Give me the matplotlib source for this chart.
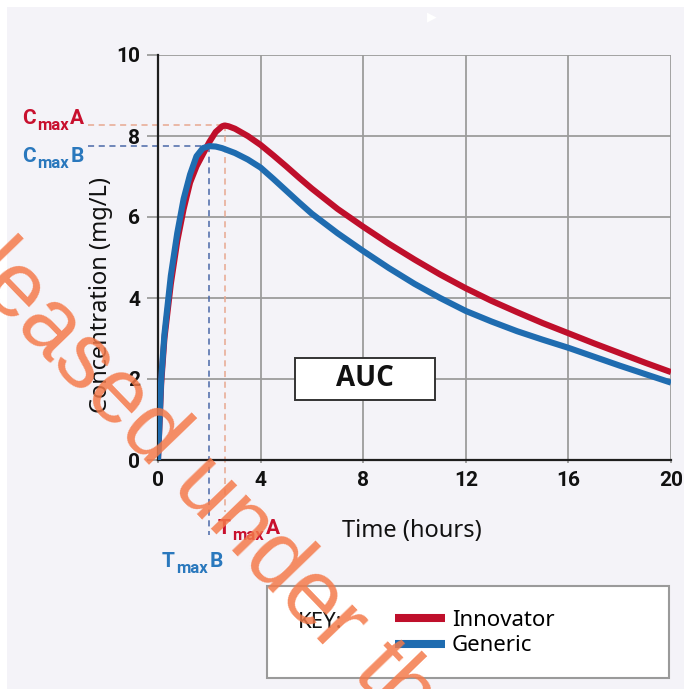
import matplotlib
matplotlib.use("Agg")
import matplotlib.pyplot as plt
from matplotlib.patches import Rectangle
import numpy as np

# ---------------- data ----------------
time_innovator = [0, 0.125, 0.25, 0.5, 0.75, 1.0, 1.25, 1.5, 1.75, 2.0, 2.25, 2.5, 2.6, 2.75, 3.0,
                  3.5, 4, 4.5, 5, 5.5, 6, 7, 8, 9, 10, 11, 12, 13, 14, 15, 16, 17, 18, 19, 20]
conc_innovator = [0, 1.9, 3.0, 4.35, 5.4, 6.2, 6.85, 7.25, 7.55, 7.85, 8.1, 8.24, 8.26, 8.24, 8.18,
                  8.0, 7.78, 7.52, 7.25, 6.97, 6.7, 6.2, 5.76, 5.34, 4.95, 4.58, 4.24, 3.93,
                  3.65, 3.38, 3.13, 2.88, 2.64, 2.4, 2.17]
time_generic = [0, 0.125, 0.25, 0.5, 0.75, 1.0, 1.25, 1.5, 1.75, 2.0, 2.25, 2.5, 3.0, 3.5, 4,
                4.5, 5, 5.5, 6, 7, 8, 9, 10, 11, 12, 13, 14, 15, 16, 17, 18, 19, 20]
conc_generic = [0, 2.0, 3.1, 4.55, 5.6, 6.45, 7.05, 7.5, 7.7, 7.75, 7.74, 7.7, 7.58, 7.42, 7.22,
                6.94, 6.65, 6.36, 6.08, 5.6, 5.16, 4.74, 4.35, 4.0, 3.68, 3.42, 3.18, 2.97,
                2.77, 2.55, 2.33, 2.12, 1.91]
series_names = ["Innovator", "Generic"]
x_ticks = [0, 4, 8, 12, 16, 20]
y_ticks = [0, 2, 4, 6, 8, 10]

# ---------------- style ----------------
W, H = 684, 689
BG = "#f4f3f8"
RED = "#bf0f2b"
BLUE = "#1f6cb0"
RED_TXT = "#c8102e"
BLUE_TXT = "#2a78bd"
GRID = "#9c9c9c"
NUM = ["Roboto", "DejaVu Sans"]
SANS = ["Noto Sans", "DejaVu Sans"]
BOLD = ["Open Sans", "DejaVu Sans"]

fig = plt.figure(figsize=(W / 100, H / 100), dpi=100)
fig.patch.set_facecolor("white")
fig.patches.append(Rectangle((7 / W, 0), 1, 1 - 7 / H, transform=fig.transFigure,
                             facecolor=BG, edgecolor="none", zorder=-10))
renderer = fig.canvas.get_renderer()


def fx(px):
    return px / W


def fy(py):
    return 1 - py / H


ax_l, ax_r, ax_t, ax_b = 158, 671, 55, 460
ax = fig.add_axes([fx(ax_l), fy(ax_b), fx(ax_r) - fx(ax_l), fy(ax_t) - fy(ax_b)])
ax.set_facecolor("none")
ax.set_xlim(0, 20)
ax.set_ylim(0, 10)
ax.set_xticks(x_ticks)
ax.set_yticks(y_ticks)
ax.grid(True, color=GRID, lw=1.3, zorder=0)
for s in ["top", "right"]:
    ax.spines[s].set_visible(False)
for s in ["left", "bottom"]:
    ax.spines[s].set_color("#1e1e1e")
    ax.spines[s].set_linewidth(1.6)
    ax.spines[s].set_zorder(3)
ax.tick_params(axis="y", length=8, width=1.3, color=GRID, pad=5)
ax.tick_params(axis="x", length=2, width=1.3, color=GRID, pad=6)
for lab in ax.get_xticklabels() + ax.get_yticklabels():
    lab.set_fontfamily(NUM)
    lab.set_fontweight("bold")
    lab.set_fontsize(15)
    lab.set_color("#111111")

ax.set_xlabel("Time (hours)", fontsize=17, family=SANS, color="#111111")
ax.xaxis.set_label_coords((412 - ax_l) / (ax_r - ax_l), -(519 - ax_b) / (ax_b - ax_t))
ax.set_ylabel("Concentration (mg/L)", fontsize=17, family=SANS, color="#111111")
ax.yaxis.set_label_coords(-(ax_l - 113) / (ax_r - ax_l), (ax_b - 295) / (ax_b - ax_t))

# curves
l_red, = ax.plot(time_innovator, conc_innovator, color=RED, lw=4.4, solid_capstyle="butt",
                 solid_joinstyle="round", zorder=4, label=series_names[0])
l_blue, = ax.plot(time_generic, conc_generic, color=BLUE, lw=4.4, solid_capstyle="butt",
                  solid_joinstyle="round", zorder=5, label=series_names[1])

# Cmax / Tmax guides
ia = int(np.argmax(conc_innovator))
ib = int(np.argmax(conc_generic))
tA, cA = time_innovator[ia], conc_innovator[ia]
tB, cB = time_generic[ib], conc_generic[ib]
xpx = (ax_r - ax_l) / 20.0
ypx = (ax_b - ax_t) / 10.0
x_left = -(ax_l - 88) / xpx
ax.plot([x_left, tA], [cA, cA], ls=(0, (4, 3)), color="#e8a890", lw=1.1, clip_on=False, zorder=2)
ax.plot([tA, tA], [cA, -(512 - ax_b) / ypx], ls=(0, (4, 3)), color="#e8a890", lw=1.1,
        clip_on=False, zorder=2)
ax.plot([x_left, tB], [cB, cB], ls=(0, (4, 3)), color="#4a68a8", lw=1.1, clip_on=False, zorder=2)
ax.plot([tB, tB], [cB, -(535 - ax_b) / ypx], ls=(0, (4, 3)), color="#4a68a8", lw=1.1,
        clip_on=False, zorder=2)


def sub_label(x0, base, big, letter, color):
    parts = [(big, 15, 0, 0), ("max", 12, 6, 1), (letter, 15, 0, 2)]
    x = x0
    for txt, size, dy, gap in parts:
        t = fig.text(fx(x + gap), fy(base + dy), txt, fontsize=size, family=NUM,
                     fontweight="bold", color=color, ha="left", va="baseline")
        x = x + gap + t.get_window_extent(renderer).width


sub_label(22, 124, "C", "A", RED_TXT)
sub_label(22, 162, "C", "B", BLUE_TXT)
sub_label(218, 534, "T", "A", RED_TXT)
sub_label(162, 567, "T", "B", BLUE_TXT)

# AUC box
ax.add_patch(Rectangle(((295 - ax_l) / xpx, (ax_b - 400) / ypx), 140 / xpx, 42 / ypx,
                       facecolor="white", edgecolor="#333333", lw=1.4, zorder=6))
ax.text((365 - ax_l) / xpx, (ax_b - 379) / ypx, "AUC", fontsize=20, fontweight="bold",
        family=BOLD, ha="center", va="center", color="#111111", zorder=7)

# legend box
fig.patches.append(Rectangle((fx(267), fy(678)), fx(669) - fx(267), fy(586) - fy(678),
                             transform=fig.transFigure, facecolor="white",
                             edgecolor="#9a9a9a", lw=1.5, zorder=1))
fig.text(fx(298), fy(623), "KEY:", fontsize=16, family=SANS, color="#111111",
         ha="left", va="center")
leg = fig.legend(handles=[l_red, l_blue], labels=series_names, loc="upper left",
                 bbox_to_anchor=(fx(395), fy(610)), frameon=False,
                 handlelength=2.25, handletextpad=0.3, labelspacing=0.2,
                 prop={"family": SANS, "size": 16}, borderaxespad=0, borderpad=0)
for ln in leg.get_lines():
    ln.set_linewidth(5.8)

# small white marker at top
fig.text(fx(432), fy(17), "\u25B6", fontsize=9, color="white", ha="center", va="center")

# watermark
fig.text(fx(-116), fy(190), "Released under the CC", fontsize=66, family="Liberation Sans",
         color="#f47a4a", alpha=0.85, rotation=-46, rotation_mode="anchor",
         ha="left", va="baseline", zorder=20)

fig.savefig("out.png", dpi=100, facecolor=fig.get_facecolor())
